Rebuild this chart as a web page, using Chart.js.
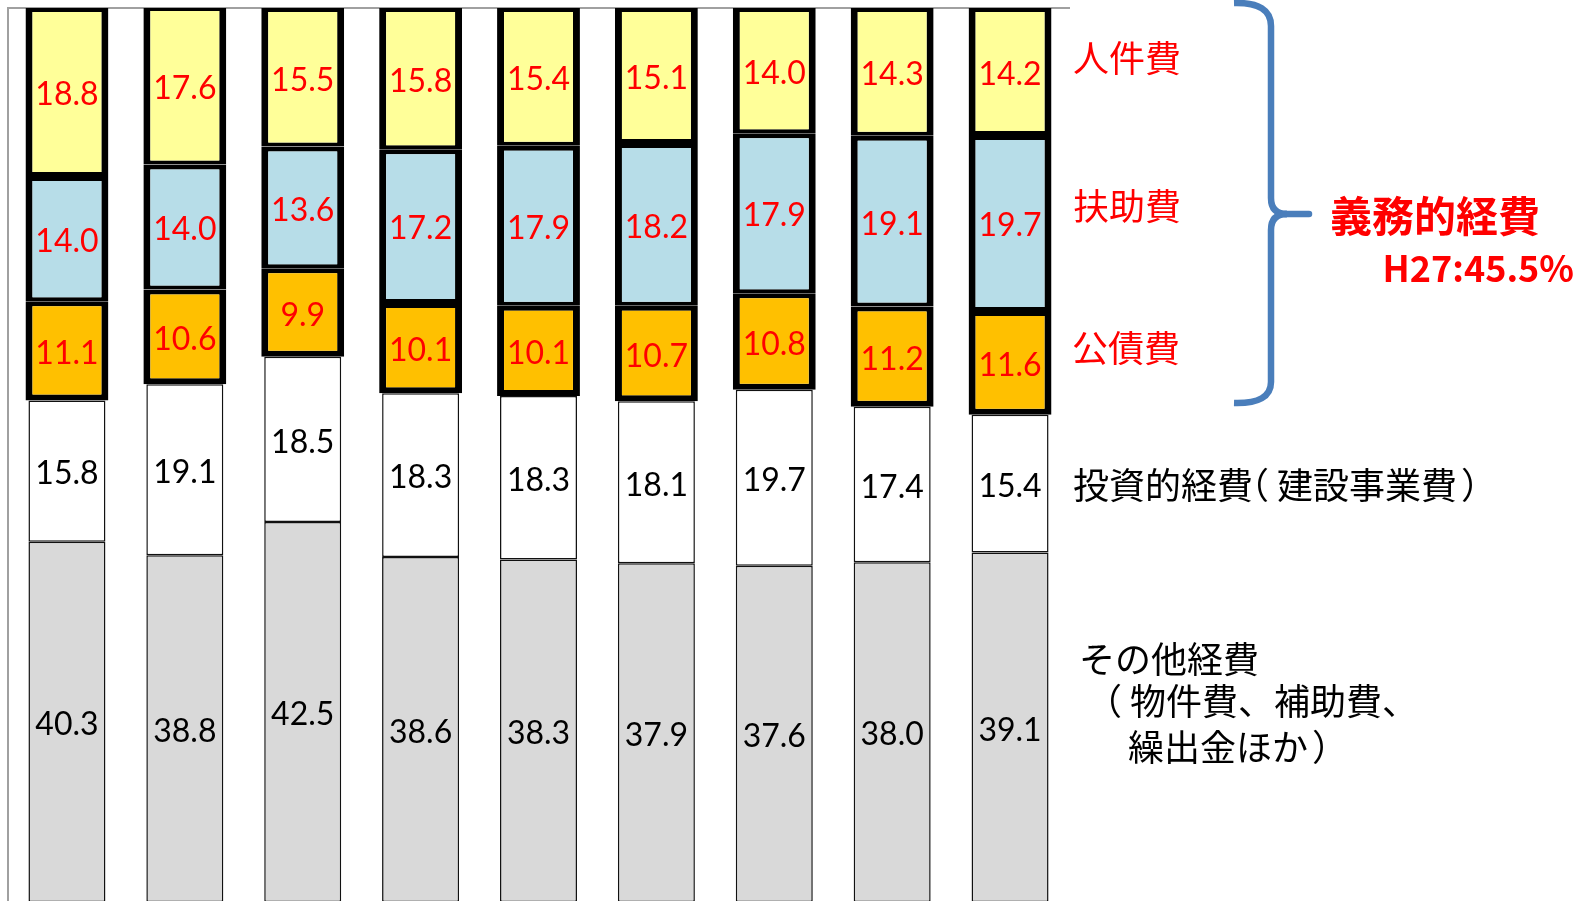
<!DOCTYPE html>
<html>
<head>
<meta charset="utf-8">
<script src="https://cdn.jsdelivr.net/npm/chart.js@4/dist/chart.umd.min.js"></script>
<style>
html, body { margin: 0; padding: 0; background: #ffffff; overflow: hidden; }
#wrap { position: absolute; left: 0; top: 0; width: 1586px; height: 910px; }
</style>
</head>
<body>
<div id="wrap"><canvas id="c" width="1586" height="910"></canvas></div>
<script>
// ---- data ----
const categories = ['H19', 'H20', 'H21', 'H22', 'H23', 'H24', 'H25', 'H26', 'H27'];
const otherExpenses = [40.3, 38.8, 42.5, 38.6, 38.3, 37.9, 37.6, 38.0, 39.1];   // その他経費
const investmentExpenses = [15.8, 19.1, 18.5, 18.3, 18.3, 18.1, 19.7, 17.4, 15.4]; // 投資的経費
const debtService = [11.1, 10.6, 9.9, 10.1, 10.1, 10.7, 10.8, 11.2, 11.6];        // 公債費
const assistanceCosts = [14.0, 14.0, 13.6, 17.2, 17.9, 18.2, 17.9, 19.1, 19.7];    // 扶助費
const personnelCosts = [18.8, 17.6, 15.5, 15.8, 15.4, 15.1, 14.0, 14.3, 14.2];     // 人件費

const seriesNames = ['その他経費', '投資的経費（建設事業費）', '公債費', '扶助費', '人件費'];
const groupTitle = '義務的経費';
const groupShare = 'H27:45.5%';
const otherNoteLines = ['その他経費', '（物件費、補助費、', '繰出金ほか）'];

const thinPct = 0.653;
const thickPct = 0.703;

const datasets = [
  { label: seriesNames[0], data: otherExpenses, backgroundColor: '#D9D9D9', borderColor: '#111111',
    borderWidth: 1.5, borderSkipped: false, barPercentage: thinPct, labelColor: '#000000' },
  { label: seriesNames[1], data: investmentExpenses, backgroundColor: '#FFFFFF', borderColor: '#111111',
    borderWidth: 1.5, borderSkipped: false, barPercentage: thinPct, labelColor: '#000000' },
  { label: seriesNames[2], data: debtService, backgroundColor: '#FFC000', borderColor: '#000000',
    borderWidth: { top: 5, bottom: 6, left: 7, right: 7 }, borderSkipped: false, barPercentage: thickPct, labelColor: '#FF0000' },
  { label: seriesNames[3], data: assistanceCosts, backgroundColor: '#B7DDE8', borderColor: '#000000',
    borderWidth: { top: 5, bottom: 4, left: 7, right: 7 }, borderSkipped: false, barPercentage: thickPct, labelColor: '#FF0000' },
  { label: seriesNames[4], data: personnelCosts, backgroundColor: '#FFFF99', borderColor: '#000000',
    borderWidth: { top: 4, bottom: 4, left: 7, right: 7 }, borderSkipped: false, barPercentage: thickPct, labelColor: '#FF0000' }
];

const valueLabels = {
  id: 'valueLabels',
  afterDatasetsDraw(chart) {
    const ctx = chart.ctx;
    ctx.save();
    ctx.font = '32px Lato, "Open Sans", sans-serif';
    ctx.textAlign = 'center';
    ctx.textBaseline = 'middle';
    chart.data.datasets.forEach((ds, i) => {
      const meta = chart.getDatasetMeta(i);
      meta.data.forEach((el, j) => {
        const p = el.getProps(['x', 'y', 'base'], true);
        ctx.fillStyle = ds.labelColor;
        ctx.fillText(Number(ds.data[j]).toFixed(1), p.x, (p.y + p.base) / 2 + 3);
      });
    });
    ctx.restore();
  }
};

// draws a string with proportional (narrow) full-width parentheses
function drawProp(ctx, str, x, y) {
  let cur = x;
  for (const c of str) {
    const m = ctx.measureText(c);
    if (c === '（') {
      const dx = cur + 5 + m.actualBoundingBoxLeft;
      ctx.fillText(c, dx, y);
      cur = dx + m.actualBoundingBoxRight + 9;
    } else if (c === '）') {
      const dx = cur + 5 + m.actualBoundingBoxLeft;
      ctx.fillText(c, dx, y);
      cur = dx + m.actualBoundingBoxRight + 4;
    } else {
      ctx.fillText(c, cur, y);
      cur += m.width;
    }
  }
}

const sideNotes = {
  id: 'sideNotes',
  afterDraw(chart) {
    const ctx = chart.ctx;
    const R = chart.chartArea.right;
    ctx.save();
    ctx.textBaseline = 'middle';
    ctx.textAlign = 'left';
    const jp = '"Noto Sans CJK JP", sans-serif';
    ctx.font = '36px ' + jp;
    ctx.fillStyle = '#FF0000';
    ctx.fillText(seriesNames[4], R + 4, 58);
    ctx.fillText(seriesNames[3], R + 4, 206);
    ctx.fillText(seriesNames[2], R + 3, 348);
    ctx.fillStyle = '#000000';
    drawProp(ctx, seriesNames[1], R + 4, 485);
    drawProp(ctx, otherNoteLines[0], R + 10, 659);
    drawProp(ctx, otherNoteLines[1], R + 37, 701);
    drawProp(ctx, otherNoteLines[2], R + 59, 747);

    // brace
    ctx.strokeStyle = '#4A7EBB';
    ctx.lineWidth = 6.5;
    ctx.lineCap = 'butt';
    ctx.lineJoin = 'round';
    const bx = R + 202;
    const ex = R + 165;
    ctx.beginPath();
    ctx.moveTo(ex, 3);
    ctx.quadraticCurveTo(bx, 2, bx, 26);
    ctx.lineTo(bx, 198);
    ctx.quadraticCurveTo(bx, 214, bx + 16, 214);
    ctx.stroke();
    ctx.beginPath();
    ctx.moveTo(bx + 14, 214);
    ctx.lineTo(bx + 38, 214);
    ctx.lineCap = 'round';
    ctx.stroke();
    ctx.lineCap = 'butt';
    ctx.beginPath();
    ctx.moveTo(bx + 16, 214);
    ctx.quadraticCurveTo(bx, 214, bx, 230);
    ctx.lineTo(bx, 382);
    ctx.quadraticCurveTo(bx, 404, ex, 403);
    ctx.stroke();

    ctx.fillStyle = '#FF0000';
    ctx.font = 'bold 42px ' + jp;
    ctx.fillText(groupTitle, R + 261, 216);
    ctx.textAlign = 'right';
    ctx.font = 'bold 36px ' + jp;
    ctx.fillText(groupShare, R + 505, 268);
    ctx.restore();
  }
};

new Chart(document.getElementById('c'), {
  type: 'bar',
  data: { labels: categories, datasets: datasets },
  options: {
    responsive: false,
    animation: false,
    devicePixelRatio: 1,
    layout: { padding: { left: 8, top: 8, right: 517, bottom: 8 } },
    datasets: { bar: { categoryPercentage: 1.0 } },
    plugins: { legend: { display: false }, tooltip: { enabled: false } },
    scales: {
      x: { stacked: true, display: false },
      x2: { type: 'category', position: 'top', display: true,
            grid: { display: false, drawTicks: false }, ticks: { display: false },
            border: { display: true, color: '#A0A0A0', width: 2 } },
      y: { stacked: true, min: 0, max: 100, display: true,
           grid: { display: false, drawTicks: false }, ticks: { display: false },
           border: { display: true, color: '#A0A0A0', width: 2 } }
    }
  },
  plugins: [valueLabels, sideNotes]
});
</script>
</body>
</html>
